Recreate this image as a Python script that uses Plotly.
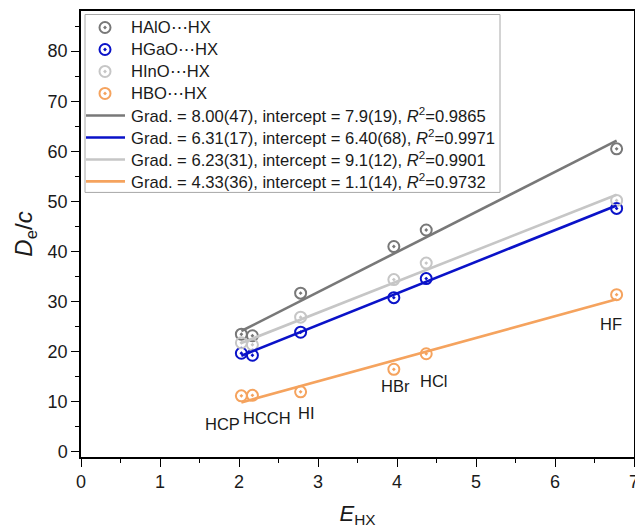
import plotly.graph_objects as go

# ---- data ----
molecules = ["HCP", "HCCH", "HI", "HBr", "HCl", "HF"]
E_HX = [2.03, 2.17, 2.78, 3.96, 4.37, 6.78]
De_HAlO = [23.5, 23.2, 31.7, 41.0, 44.3, 60.5]
De_HGaO = [19.7, 19.3, 23.9, 30.8, 34.6, 48.6]
De_HInO = [21.8, 21.4, 26.9, 34.4, 37.7, 50.2]
De_HBO = [11.2, 11.3, 12.0, 16.5, 19.6, 31.4]

series_names = ["HAlO⋯HX", "HGaO⋯HX", "HInO⋯HX", "HBO⋯HX"]
gradients = [8.00, 6.31, 6.23, 4.33]
intercepts = [7.9, 6.40, 9.1, 1.1]
fit_labels = [
    "Grad. = 8.00(47), intercept = 7.9(19), <i>R</i><sup>2</sup>=0.9865",
    "Grad. = 6.31(17), intercept = 6.40(68), <i>R</i><sup>2</sup>=0.9971",
    "Grad. = 6.23(31), intercept = 9.1(12), <i>R</i><sup>2</sup>=0.9901",
    "Grad. = 4.33(36), intercept = 1.1(14), <i>R</i><sup>2</sup>=0.9732",
]

colors = ["#787878", "#0a12c8", "#c6c6c6", "#f5a35e"]
series_values = [De_HAlO, De_HGaO, De_HInO, De_HBO]

FONT = "Liberation Sans, Arial, sans-serif"
TXT = "#1a1a1a"

# plot-area geometry in pixels (used for the hand-made legend overlay)
W, H = 635, 529
L, R, T, B = 81, 1, 10.5, 72.3
PX0, PX1 = L, W - R
PY0, PY1 = H - B, T

fig = go.Figure()

# data markers
for name, vals, col in zip(series_names, series_values, colors):
    fig.add_trace(go.Scatter(
        x=E_HX, y=vals, mode="markers", name=name, showlegend=False,
        marker=dict(symbol="circle-open-dot", size=11, color=col,
                    line=dict(width=2, color=col)),
    ))

# fit lines
xmin, xmax = min(E_HX), max(E_HX)
for lab, g, b, col in zip(fit_labels, gradients, intercepts, colors):
    fig.add_trace(go.Scatter(
        x=[xmin, xmax], y=[g * xmin + b, g * xmax + b], mode="lines",
        name=lab, showlegend=False, line=dict(color=col, width=2.6),
    ))

# molecule labels beneath HBO points
label_shifts = {"HCP": (-19, -28), "HCCH": (15, -23), "HI": (6, -21),
                "HBr": (2, -17), "HCl": (8, -27), "HF": (-6, -29)}
for m, xv, yv in zip(molecules, E_HX, De_HBO):
    dx, dy = label_shifts[m]
    fig.add_annotation(x=xv, y=yv, text=m, showarrow=False,
                       xshift=dx, yshift=dy,
                       font=dict(family=FONT, size=16.5, color=TXT))

# ---- legend drawn in a pixel-coordinate overlay ----
box_l, box_t, box_r, box_b = 85, 14, 500, 192
fig.add_shape(type="rect", xref="x2", yref="y2", x0=box_l, x1=box_r,
              y0=box_t, y1=box_b, line=dict(color="#a8a8a8", width=1),
              fillcolor="white", layer="below")
row0, pitch = 27, 22.0
sym_x, txt_x = 105, 129
for i, (name, col) in enumerate(zip(series_names, colors)):
    yy = row0 + i * pitch
    fig.add_trace(go.Scatter(
        x=[sym_x], y=[yy], xaxis="x2", yaxis="y2", mode="markers",
        showlegend=False, hoverinfo="skip",
        marker=dict(symbol="circle-open-dot", size=11, color=col,
                    line=dict(width=2, color=col))))
    fig.add_annotation(x=txt_x, y=yy, xref="x2", yref="y2", text=name,
                       showarrow=False, xanchor="left", yanchor="middle",
                       font=dict(family=FONT, size=16.6, color=TXT))
for j, (lab, col) in enumerate(zip(fit_labels, colors)):
    yy = row0 + (j + 4) * pitch
    fig.add_trace(go.Scatter(
        x=[86, 125], y=[yy, yy], xaxis="x2", yaxis="y2", mode="lines",
        showlegend=False, hoverinfo="skip", line=dict(color=col, width=2.6)))
    fig.add_annotation(x=txt_x, y=yy, xref="x2", yref="y2", text=lab,
                       showarrow=False, xanchor="left", yanchor="middle",
                       font=dict(family=FONT, size=16.6, color=TXT))

axis_common = dict(
    showline=True, linecolor="black", linewidth=1.5, mirror=True,
    ticks="outside", ticklen=8, tickwidth=1.3, tickcolor="black",
    showgrid=False, zeroline=False, automargin=False,
    ticklabeloverflow="allow",
    tickfont=dict(family=FONT, size=18, color=TXT),
)

fig.update_layout(
    width=W, height=H,
    margin=dict(l=L, r=R, t=T, b=B, pad=0),
    paper_bgcolor="white", plot_bgcolor="white",
    font=dict(family=FONT, size=16, color=TXT),
    showlegend=False,
    xaxis=dict(range=[0, 7], dtick=1,
               minor=dict(ticks="outside", ticklen=4, dtick=0.5,
                          tickcolor="black", tickwidth=1.2),
               title=dict(text="<i>E</i><sub>HX</sub>",
                          font=dict(family=FONT, size=22, color=TXT), standoff=14),
               **axis_common),
    yaxis=dict(range=[-1, 88], dtick=10,
               minor=dict(ticks="outside", ticklen=4, dtick=5,
                          tickcolor="black", tickwidth=1.2),
               title=dict(text="<i>D</i><sub>e</sub>/<i>c</i>",
                          font=dict(family=FONT, size=24, color=TXT), standoff=8),
               **axis_common),
    xaxis2=dict(overlaying="x", range=[PX0, PX1], visible=False,
                fixedrange=True),
    yaxis2=dict(overlaying="y", range=[PY0, PY1], visible=False,
                fixedrange=True),
)

fig.write_html(
    "out.html",
    config={"displayModeBar": False},
    post_script="document.body.style.margin='0';"
                "document.body.style.overflow='hidden';",
)
